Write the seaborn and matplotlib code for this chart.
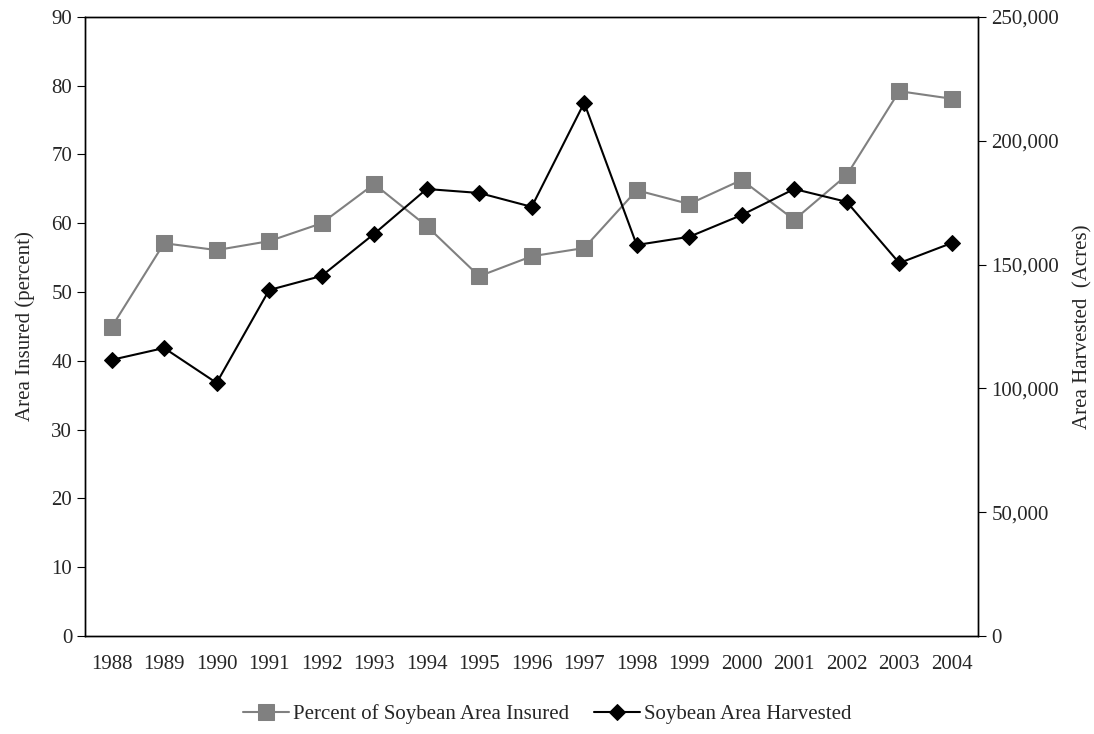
import matplotlib
matplotlib.use("Agg")
import matplotlib.pyplot as plt
import seaborn as sns
import numpy as np
import pandas as pd
from matplotlib.ticker import FuncFormatter, MultipleLocator

years = [str(y) for y in range(1988, 2005)]
pct_insured = [44.9, 57.1, 56.1, 57.4, 60.0, 65.7, 59.6, 52.3, 55.2, 56.4, 64.8, 62.8, 66.3, 60.5, 67.0, 79.2, 78.1]
harvested = [111500, 116300, 102200, 139700, 145400, 162400, 180500, 178900, 173300, 215300, 157900, 161200, 170000, 180500, 175300, 150600, 158700]

sns.set_style("white")
plt.rcParams['font.family'] = ['Liberation Serif', 'DejaVu Serif']
plt.rcParams['font.size'] = 15

fig = plt.figure(figsize=(10.94, 7.34), dpi=100)
ax = fig.add_axes([0.078, 0.1335, 0.816, 0.8435])
ax2 = ax.twinx()
x = np.arange(len(years))
df = pd.DataFrame({"x": x, "pct": pct_insured, "har": harvested})

sns.lineplot(data=df, x="x", y="pct", ax=ax, color="#808080", marker="s", markersize=12,
             markeredgecolor="#808080", linewidth=1.5, label="Percent of Soybean Area Insured", legend=False)
sns.lineplot(data=df, x="x", y="har", ax=ax2, color="black", marker="D", markersize=8,
             markeredgecolor="black", linewidth=1.5, label="Soybean Area Harvested", legend=False)

ax.set_xlim(-0.5, len(years) - 0.5)
ax.set_ylim(0, 90)
ax2.set_ylim(0, 250000)
ax.yaxis.set_major_locator(MultipleLocator(10))
ax2.yaxis.set_major_locator(MultipleLocator(50000))
ax2.yaxis.set_major_formatter(FuncFormatter(lambda v, p: f"{int(v):,}"))
ax.set_xticks(x)
ax.set_xticklabels(years)
ax.set_xticks(np.arange(-0.5, len(years), 1), minor=True)
ax.tick_params(axis='x', which='major', length=0, pad=14)
ax.tick_params(axis='x', which='minor', length=6, direction='out', color='black')
ax.tick_params(axis='y', length=6, direction='out', color='black', left=True)
ax2.tick_params(axis='y', length=6, direction='out', color='black', right=True)
ax.set_xlabel("")
ax.set_ylabel("Area Insured (percent)", fontsize=15, labelpad=12)
ax2.set_ylabel("Area Harvested  (Acres)", fontsize=15, labelpad=10)
for a in (ax, ax2):
    for s in a.spines.values():
        s.set_color("black")
        s.set_linewidth(1)

h1, l1 = ax.get_legend_handles_labels()
h2, l2 = ax2.get_legend_handles_labels()
fig.legend(h1 + h2, l1 + l2, loc="lower center", bbox_to_anchor=(0.5, -0.012), ncol=2,
           frameon=False, fontsize=15, handlelength=2.2, columnspacing=1.2, handletextpad=0.2)

fig.savefig("out.png", dpi=100)
